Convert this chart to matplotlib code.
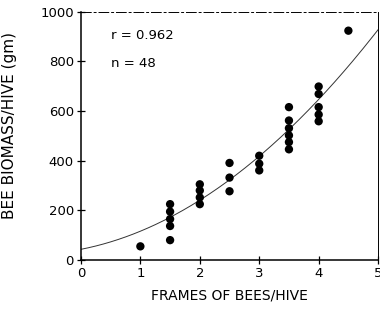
import matplotlib.pyplot as plt
import numpy as np

# frames of bees per hive vs bee biomass (gm)
frames = [1.0,
          1.5, 1.5, 1.5, 1.5, 1.5,
          2.0, 2.0, 2.0, 2.0,
          2.5, 2.5, 2.5,
          3.0, 3.0, 3.0,
          3.5, 3.5, 3.5, 3.5, 3.5, 3.5,
          4.0, 4.0, 4.0, 4.0, 4.0,
          4.5]
biomass = [55,
           225, 195, 165, 137, 80,
           305, 280, 252, 225,
           391, 332, 277,
           420, 388, 361,
           616, 562, 531, 502, 475, 446,
           699, 669, 616, 586, 559,
           924]

# regression curve y = a + b*x + c*x^2 (coefficients)
fit_coef = [43, 47, 26]
x_ticks = [0, 1, 2, 3, 4, 5]
y_ticks = [0, 200, 400, 600, 800, 1000]

plt.rcParams['font.family'] = 'DejaVu Sans'

fig = plt.figure(figsize=(3.8, 3.11), dpi=100)
ax = fig.add_axes([0.213, 0.164, 0.782, 0.798])

xs = np.linspace(0, 5, 200)
ys = fit_coef[0] + fit_coef[1] * xs + fit_coef[2] * xs ** 2
ax.plot(xs, ys, color='#333333', linewidth=0.7)
ax.scatter(frames, biomass, s=36, color='black', zorder=3, edgecolors='none')

ax.set_xlim(0, 5)
ax.set_ylim(0, 1000)
ax.set_xticks(x_ticks)
ax.set_yticks(y_ticks)
ax.tick_params(direction='inout', length=6, width=0.9, labelsize=9.5, pad=2)

for s in ['left', 'bottom']:
	ax.spines[s].set_linewidth(1.1)
ax.spines['top'].set_linewidth(0.7)
ax.spines['top'].set_linestyle((0, (10, 3, 2, 3)))
ax.spines['right'].set_linewidth(0.7)

ax.text(0.50, 904, 'r = 0.962', fontsize=9.5, va='center')
ax.text(0.50, 791, 'n = 48', fontsize=9.5, va='center')

ax.set_xlabel('FRAMES OF BEES/HIVE', fontsize=10, labelpad=6)
ax.set_ylabel('BEE BIOMASS/HIVE (gm)', fontsize=11)
ax.yaxis.set_label_coords(-0.215, 0.54)

fig.savefig('out.png', dpi=100)
